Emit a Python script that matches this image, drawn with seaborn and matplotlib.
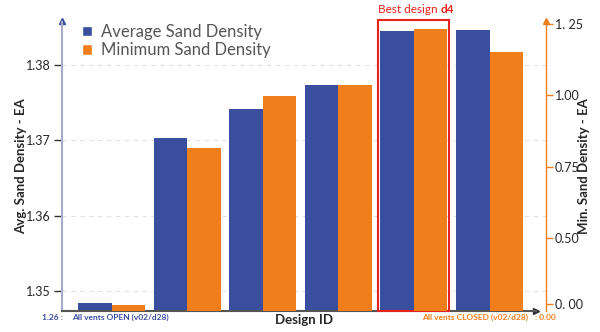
import matplotlib
matplotlib.use("Agg")
import matplotlib.pyplot as plt
from matplotlib.patches import Patch, Rectangle
import seaborn as sns
import pandas as pd

# Design candidates (ordered by average sand density)
designs = ["d1", "d2", "d3", "d5", "d4", "d6"]
avg_density = [1.3484, 1.3703, 1.3742, 1.3773, 1.3845, 1.3846]
min_density = [0.265, 0.816, 0.998, 1.037, 1.232, 1.153]
series = ["Average Sand Density", "Minimum Sand Density"]
left_ticks = [1.35, 1.36, 1.37, 1.38]
right_ticks = [0.27, 0.50, 0.75, 1.00, 1.25]
right_tick_labels = ["0. 00", "0.50", "0.75", "1.00", "1. 25"]

BLUE = "#3a4ea0"
ORANGE = "#f07e1b"
RED = "#e8231e"

avg_df = pd.DataFrame({"design": designs, "value": avg_density, "series": series[0]})
min_df = pd.DataFrame({"design": designs, "value": min_density, "series": series[1]})
palette = {series[0]: BLUE, series[1]: ORANGE}

sns.set_style("white")
plt.rcParams["font.family"] = ["Lato", "DejaVu Sans"]

fig = plt.figure(figsize=(6.0, 3.32), dpi=100)
ax = fig.add_axes([0.1033, 0.0633, 0.8067, 0.8707])
ax2 = ax.twinx()

sns.barplot(data=avg_df, x="design", y="value", hue="series", hue_order=series,
            order=designs, palette=palette, width=0.886, dodge=True, ax=ax,
            legend=False, errorbar=None, saturation=1, linewidth=0)
sns.barplot(data=min_df, x="design", y="value", hue="series", hue_order=series,
            order=designs, palette=palette, width=0.886, dodge=True, ax=ax2,
            legend=False, errorbar=None, saturation=1, linewidth=0)

for a in (ax, ax2):
    a.set_xlim(-0.655, 5.747)
    a.set_xticks([])
    a.set_xlabel("")
    a.set_ylabel("")

ax.set_ylim(1.3474, 1.3857)
ax2.set_ylim(0.245, 1.257)
ax.set_yticks(left_ticks)
ax.set_yticklabels([f"{t:.2f}" for t in left_ticks])
ax2.set_yticks(right_ticks)
ax2.set_yticklabels(right_tick_labels)

ax.yaxis.grid(True, linestyle=(0, (4, 4)), color="#e2e2e2", linewidth=0.8)
ax.set_axisbelow(True)

ax.tick_params(axis="y", length=6, width=1, color="#333333", labelsize=9,
               pad=2, left=True)
ax2.tick_params(axis="y", length=5, width=1, color=ORANGE, labelsize=9,
                pad=1.5, right=True)

# Spines
for a in (ax, ax2):
    a.spines["top"].set_visible(False)
ax.spines["right"].set_visible(False)
ax2.spines["left"].set_visible(False)
ax2.spines["bottom"].set_visible(False)
ax.spines["left"].set_color("#a8a8c8")
ax.spines["left"].set_linewidth(1.5)
ax.spines["bottom"].set_color("#555555")
ax.spines["bottom"].set_linewidth(1.5)
ax.spines["bottom"].set_bounds(-0.655, 5.62)
ax2.spines["right"].set_color(ORANGE)
ax2.spines["right"].set_linewidth(1.0)

# Arrow heads on the axis lines
ax.plot([0], [1.003], marker="^", markersize=5, color=BLUE,
        transform=ax.transAxes, clip_on=False)
ax2.plot([1], [1.003], marker="^", markersize=5, color=ORANGE,
         transform=ax2.transAxes, clip_on=False)
ax.plot([0.98], [0], marker=">", markersize=5, color="#333333",
        transform=ax.transAxes, clip_on=False)

ax.set_ylabel("Avg. Sand Density - EA", fontsize=9.5, fontweight="bold")
ax2.set_ylabel("Min. Sand Density - EA", fontsize=9.5, fontweight="bold")
ax.yaxis.set_label_coords(-0.072, 0.5)
ax2.yaxis.set_label_coords(1.067, 0.5)
ax.set_xlabel("Design ID", fontsize=9.5, fontweight="bold", labelpad=2)

# Highlight of the best design
hl = Rectangle((3.525, 0.0), 0.939, 1.007, transform=ax.get_xaxis_transform(),
               fill=False, edgecolor=RED, linewidth=1.5, clip_on=False, zorder=5)
ax.add_patch(hl)
t1 = ax.text(3.525, 1.024, "Best design ", transform=ax.get_xaxis_transform(),
             ha="left", va="bottom", color=RED, fontsize=8.5)
ax.annotate("d4", xy=(1, 0), xycoords=t1, ha="left", va="bottom",
            color=RED, fontsize=8.5, fontweight="bold")

# Legend
handles = [Patch(facecolor=BLUE, label=series[0]),
           Patch(facecolor=ORANGE, label=series[1])]
ax.legend(handles=handles, loc="upper left", bbox_to_anchor=(0.01, 1.045),
          frameon=False, fontsize=12, handlelength=0.6, handleheight=0.6,
          handletextpad=0.55, labelspacing=0.15, labelcolor="#555555")

# Baseline notes under the axis
fig.text(0.070, 0.045, "1.26 :", color=BLUE, fontsize=6, fontweight="bold",
         va="center")
fig.text(0.120, 0.045, "All vents OPEN (v02/d28)", color=BLUE, fontsize=6,
         fontweight="bold", va="center")
fig.text(0.880, 0.045, "All vents CLOSED (v02/d28)", color=ORANGE, fontsize=6,
         fontweight="bold", va="center", ha="right")
fig.text(0.892, 0.045, ": 0.00", color=ORANGE, fontsize=6, fontweight="bold",
         va="center")

fig.savefig("out.png", dpi=100)
